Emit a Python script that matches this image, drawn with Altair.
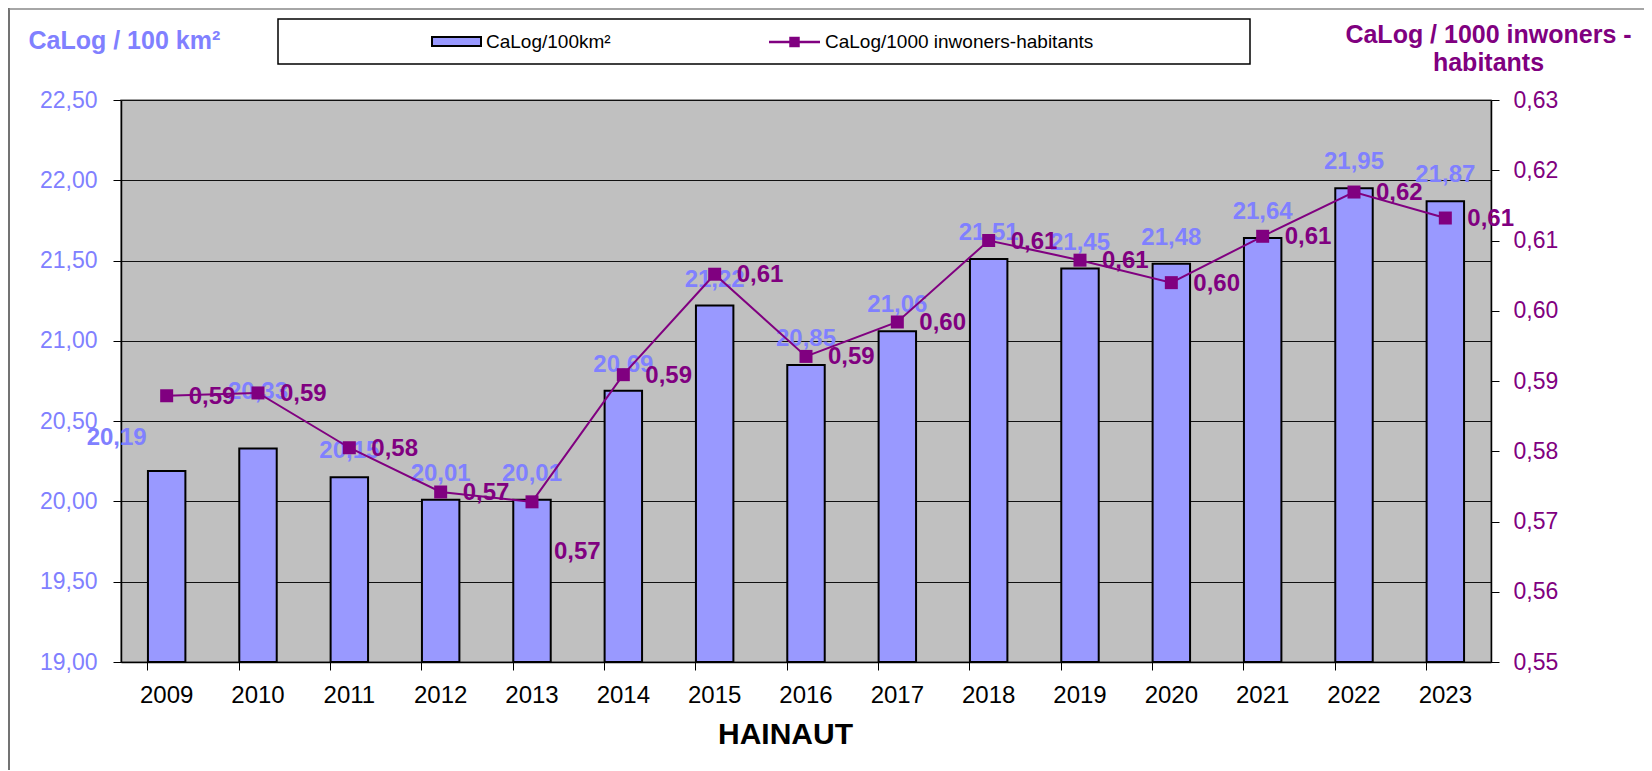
import altair as alt
import pandas as pd

# ---------------- data ----------------
years = [str(y) for y in range(2009, 2024)]
calog_per_100km2 = [20.19, 20.33, 20.15, 20.01, 20.01, 20.69, 21.22, 20.85,
                    21.06, 21.51, 21.45, 21.48, 21.64, 21.95, 21.87]
calog_per_1000_hab = [0.5879, 0.5883, 0.5805, 0.5742, 0.5728, 0.5909, 0.6052, 0.5935,
                      0.5984, 0.6100, 0.6072, 0.6040, 0.6106, 0.6169, 0.6132]
left_ticks = [19.0, 19.5, 20.0, 20.5, 21.0, 21.5, 22.0, 22.5]
right_ticks = [0.55, 0.56, 0.57, 0.58, 0.59, 0.60, 0.61, 0.62, 0.63]

series_bar = "CaLog/100km²"
series_line = "CaLog/1000 inwoners-habitants"
left_title = "CaLog / 100 km²"
right_title = ["CaLog / 1000 inwoners -", "habitants"]
x_title = "HAINAUT"

df = pd.DataFrame({"year": years, "km2": calog_per_100km2, "hab": calog_per_1000_hab})

# ---------------- style ----------------
FONT = "Liberation Sans"
BLUE_TXT = "#8080FF"
BAR = "#9999FF"
PURPLE = "#800080"
W, H = 1370, 562
COMMA = "replace(format(datum.value, '.2f'), '.', ',')"

# label nudges (pixels) for labels placed off their default spot
bar_label_nudge = {"2009": (-50, -33), "2010": (0, -56)}
bar_label_default = (0, -26)
line_label_nudge = {"2013": (22, 50)}
line_label_default = (22, 1)

x_enc = alt.X(
    "year:N", sort=years, title=x_title,
    scale=alt.Scale(paddingInner=0.59, paddingOuter=0.295),
    axis=alt.Axis(labelAngle=0, labelFontSize=24, labelColor="black", labelPadding=13,
                  tickSize=8, tickColor="black", tickWidth=1, bandPosition=0,
                  domainColor="black", domainWidth=1.5,
                  titleFontSize=30, titleFontWeight="bold", titleColor="black",
                  titleX=664, titleY=72, titleAlign="center", titleBaseline="middle"),
)

y_left = alt.Y(
    "km2:Q", scale=alt.Scale(domain=[19, 22.5], zero=False, nice=False),
    axis=alt.Axis(values=left_ticks, labelExpr=COMMA, orient="left", grid=True,
                  gridColor="#111111", gridWidth=1, labelColor=BLUE_TXT, labelFontSize=23,
                  labelPadding=16, tickSize=8, tickColor="black", domainColor="black",
                  domainWidth=1.5, title=left_title, titleAngle=0, titleX=-93, titleY=-60,
                  titleAlign="left", titleBaseline="middle", titleFontSize=25,
                  titleColor=BLUE_TXT, titleFontWeight="bold"),
)

y_right = alt.Y(
    "hab:Q", scale=alt.Scale(domain=[0.55, 0.63], zero=False, nice=False),
    axis=alt.Axis(values=right_ticks, labelExpr=COMMA, orient="right", grid=False,
                  labelColor=PURPLE, labelFontSize=23, labelPadding=14, tickSize=8,
                  tickColor="black", domainColor="black", domainWidth=1.5,
                  title=right_title, titleAngle=0, titleX=-3, titleY=-78,
                  titleAlign="center", titleBaseline="top", titleFontSize=25,
                  titleLineHeight=28, titleColor=PURPLE, titleFontWeight="bold"),
)

base = alt.Chart(df)

bars = base.mark_bar(color=BAR, stroke="black", strokeWidth=2).encode(
    x=x_enc, y=y_left, y2=alt.datum(19)
)


def text_layers(field, y_enc, nudge, default, color, align):
    layers = []
    special = list(nudge.keys())
    lbl_expr = "replace(format(datum." + field + ", '.2f'), '.', ',')"
    groups = [("indexof(" + str(special) + ", datum.year) < 0", default)]
    for yr, off in nudge.items():
        groups.append(("datum.year == '" + yr + "'", off))
    for flt, (dx, dy) in groups:
        layers.append(
            base.transform_filter(flt)
            .transform_calculate(lbl=lbl_expr)
            .mark_text(font=FONT, fontSize=24, fontWeight="bold", color=color,
                       align=align, baseline="middle", dx=dx, dy=dy)
            .encode(x=x_enc, y=y_enc, text="lbl:N")
        )
    return layers


bar_labels = text_layers("km2", y_left, bar_label_nudge, bar_label_default, BLUE_TXT, "center")

line = base.mark_line(color=PURPLE, strokeWidth=2).encode(x=x_enc, y=y_right)
points = base.mark_point(shape="square", filled=True, size=169, color=PURPLE,
                         opacity=1).encode(x=x_enc, y=y_right)
line_labels = text_layers("hab", y_right, line_label_nudge, line_label_default, PURPLE, "left")

# ---------------- legend & frame decorations ----------------
deco = alt.Chart(alt.Data(values=[{"d": 1}]))
legend_box = deco.mark_rect(fill="white", stroke="black", strokeWidth=1.5).encode(
    x=alt.value(157), x2=alt.value(1129), y=alt.value(-81), y2=alt.value(-36))
legend_swatch = deco.mark_rect(fill=BAR, stroke="black", strokeWidth=2).encode(
    x=alt.value(311), x2=alt.value(360), y=alt.value(-63), y2=alt.value(-54))
legend_t1 = deco.mark_text(text=series_bar, font=FONT, fontSize=19, align="left",
                           baseline="middle", color="black").encode(
    x=alt.value(365), y=alt.value(-58))
legend_rule = deco.mark_rule(color=PURPLE, strokeWidth=2.5).encode(
    x=alt.value(648), x2=alt.value(699), y=alt.value(-58))
legend_pt = deco.mark_point(shape="square", filled=True, size=110, color=PURPLE,
                            opacity=1).encode(x=alt.value(673.5), y=alt.value(-58))
legend_t2 = deco.mark_text(text=series_line, font=FONT, fontSize=19, align="left",
                           baseline="middle", color="black").encode(
    x=alt.value(704), y=alt.value(-58))
frame_left = deco.mark_rule(color="#444444", strokeWidth=1.5).encode(
    x=alt.value(-112), y=alt.value(-92), y2=alt.value(670))
frame_top = deco.mark_rule(color="#888888", strokeWidth=1.5).encode(
    x=alt.value(-112), x2=alt.value(1530), y=alt.value(-91))

left_group = alt.layer(bars, *bar_labels, legend_box, legend_swatch, legend_t1, legend_rule,
                       legend_pt, legend_t2, frame_left, frame_top)
right_group = alt.layer(line, points, *line_labels)

chart = (
    alt.layer(left_group, right_group)
    .resolve_scale(y="independent")
    .properties(width=W, height=H, autosize=alt.AutoSizeParams(type="none"),
                padding={"left": 113, "top": 92, "right": 153, "bottom": 109},
                background="white")
    .configure_view(fill="#C0C0C0", stroke="#808080", strokeWidth=1.5)
    .configure_axis(labelFont=FONT, titleFont=FONT)
    .configure_text(font=FONT)
)

chart.save("out.html", embed_options={"renderer": "svg", "actions": False})
